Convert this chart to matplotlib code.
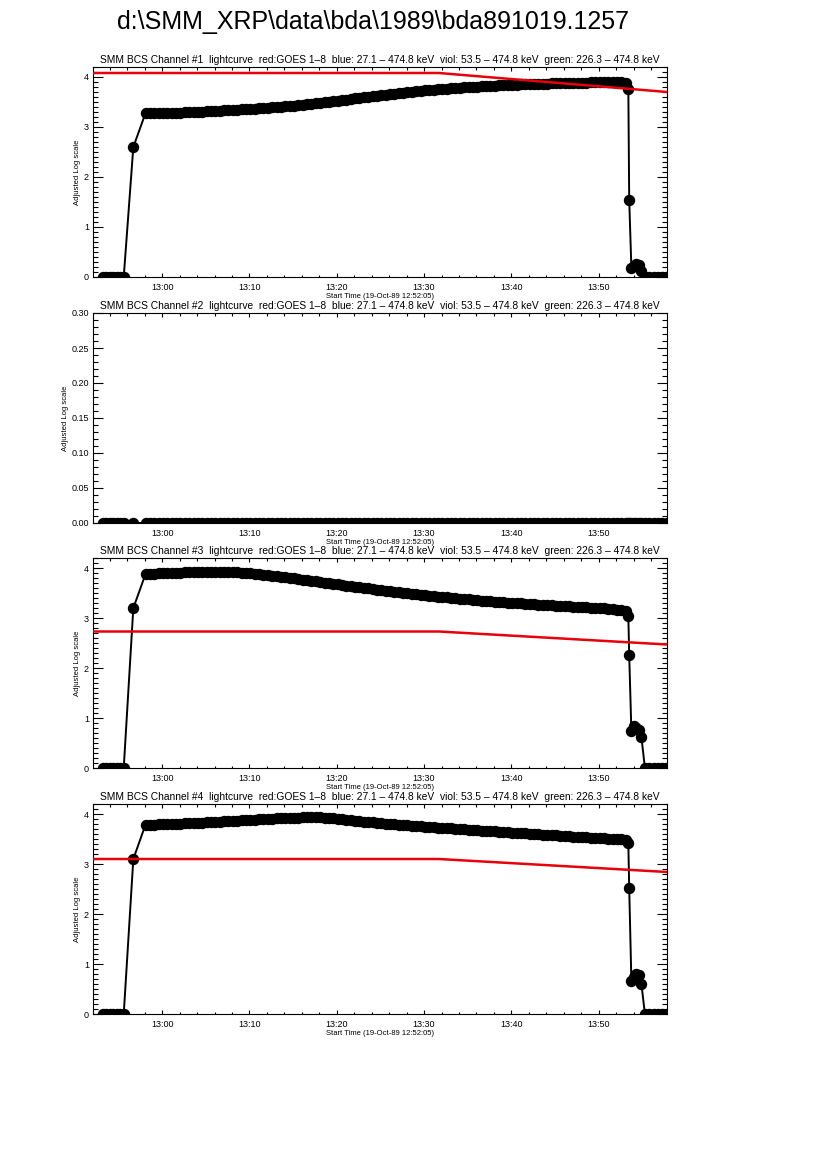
import numpy as np
import matplotlib
matplotlib.use("Agg")
import matplotlib.pyplot as plt
from matplotlib.ticker import MultipleLocator, FixedLocator

plt.rcParams['font.family'] = ['Liberation Sans', 'DejaVu Sans']

MAIN_TITLE = "d:\\SMM_XRP\\data\\bda\\1989\\bda891019.1257"
PANEL_TITLE = ("SMM BCS Channel #{}  lightcurve  red:GOES 1\u20138  blue: 27.1 \u2013 474.8 keV"
               "  viol: 53.5 \u2013 474.8 keV  green: 226.3 \u2013 474.8 keV")
XLABEL = "Start Time (19-Oct-89 12:52:05)"
YLABEL = "Adjusted Log scale"

# time in minutes after 13:00 (axis starts at 12:52:05)
X_MIN, X_MAX = -7.92, 57.83
TICK_MIN = [0, 10, 20, 30, 40, 50]
TICK_LAB = ["13:00", "13:10", "13:20", "13:30", "13:40", "13:50"]

# sample times
t_pre = [-6.8, -6.4, -6.0, -5.6, -5.2, -4.8, -4.4, -3.3]
t_main = np.arange(-1.9, 53.2, 0.5)      # regular cadence, 111 samples
t_tail = [53.4, 53.5, 53.75, 54.0, 54.3, 54.6, 54.9, 55.3, 55.8, 56.3, 56.8, 57.3, 57.8, 58.3]

# channel 1
ch1_pre = [0, 0, 0, 0, 0, 0, 0, 2.60]
ch1_main = [3.28, 3.28, 3.28, 3.28, 3.28, 3.28, 3.29, 3.29, 3.29, 3.30,
            3.30, 3.30, 3.31, 3.31, 3.32, 3.32, 3.33, 3.33, 3.34, 3.34,
            3.35, 3.35, 3.36, 3.36, 3.37, 3.37, 3.38, 3.38, 3.39, 3.40,
            3.40, 3.41, 3.42, 3.43, 3.43, 3.44, 3.45, 3.46, 3.47, 3.48,
            3.49, 3.50, 3.51, 3.52, 3.53, 3.54, 3.55, 3.56, 3.58, 3.59,
            3.60, 3.61, 3.62, 3.63, 3.64, 3.65, 3.66, 3.67, 3.68, 3.69,
            3.70, 3.71, 3.72, 3.73, 3.74, 3.74, 3.75, 3.76, 3.77, 3.77,
            3.78, 3.79, 3.79, 3.80, 3.80, 3.81, 3.81, 3.82, 3.82, 3.83,
            3.83, 3.84, 3.84, 3.85, 3.85, 3.85, 3.86, 3.86, 3.86, 3.87,
            3.87, 3.87, 3.87, 3.88, 3.88, 3.88, 3.88, 3.89, 3.89, 3.89,
            3.89, 3.89, 3.90, 3.90, 3.90, 3.90, 3.90, 3.90, 3.90, 3.90,
            3.89]
ch1_tail = [3.76, 1.55, 0.18, 0.22, 0.26, 0.24, 0.12, 0, 0, 0, 0, 0, 0, 0]

# channel 2 (flat)
ch2_pre = [0, 0, 0, 0, 0, 0, 0, 0]
ch2_main = [0.0] * 111
ch2_tail = [0, 0, 0, 0, 0, 0, 0, 0, 0, 0, 0, 0, 0, 0]

# channel 3
ch3_pre = [0, 0, 0, 0, 0, 0, 0, 3.20]
ch3_main = [3.88, 3.89, 3.89, 3.90, 3.90, 3.90, 3.91, 3.91, 3.91, 3.92,
            3.92, 3.92, 3.93, 3.93, 3.93, 3.93, 3.93, 3.93, 3.93, 3.93,
            3.92, 3.92, 3.91, 3.91, 3.90, 3.89, 3.88, 3.87, 3.86, 3.85,
            3.84, 3.83, 3.82, 3.81, 3.80, 3.79, 3.77, 3.76, 3.75, 3.74,
            3.73, 3.71, 3.70, 3.69, 3.68, 3.67, 3.65, 3.64, 3.63, 3.62,
            3.61, 3.60, 3.59, 3.57, 3.56, 3.55, 3.54, 3.53, 3.52, 3.51,
            3.50, 3.49, 3.48, 3.47, 3.46, 3.45, 3.44, 3.43, 3.42, 3.42,
            3.41, 3.40, 3.39, 3.38, 3.38, 3.37, 3.36, 3.35, 3.35, 3.34,
            3.33, 3.33, 3.32, 3.31, 3.31, 3.30, 3.30, 3.29, 3.28, 3.28,
            3.27, 3.27, 3.26, 3.26, 3.25, 3.25, 3.24, 3.24, 3.23, 3.23,
            3.22, 3.22, 3.21, 3.21, 3.20, 3.20, 3.19, 3.18, 3.17, 3.16,
            3.14]
ch3_tail = [3.04, 2.26, 0.74, 0.84, 0.80, 0.76, 0.62, 0, 0, 0, 0, 0, 0, 0]

# channel 4
ch4_pre = [0, 0, 0, 0, 0, 0, 0, 3.10]
ch4_main = [3.79, 3.79, 3.79, 3.80, 3.80, 3.80, 3.81, 3.81, 3.81, 3.82,
            3.82, 3.82, 3.83, 3.83, 3.84, 3.84, 3.85, 3.85, 3.86, 3.86,
            3.87, 3.87, 3.88, 3.88, 3.89, 3.89, 3.90, 3.90, 3.91, 3.91,
            3.92, 3.92, 3.92, 3.93, 3.93, 3.93, 3.94, 3.94, 3.94, 3.94,
            3.94, 3.93, 3.93, 3.92, 3.91, 3.90, 3.89, 3.88, 3.87, 3.86,
            3.85, 3.84, 3.84, 3.83, 3.82, 3.81, 3.81, 3.80, 3.79, 3.79,
            3.78, 3.77, 3.77, 3.76, 3.75, 3.75, 3.74, 3.73, 3.73, 3.72,
            3.72, 3.71, 3.70, 3.70, 3.69, 3.69, 3.68, 3.67, 3.67, 3.66,
            3.66, 3.65, 3.64, 3.64, 3.63, 3.63, 3.62, 3.62, 3.61, 3.60,
            3.60, 3.59, 3.59, 3.58, 3.58, 3.57, 3.56, 3.56, 3.55, 3.55,
            3.54, 3.54, 3.53, 3.53, 3.52, 3.52, 3.51, 3.51, 3.50, 3.50,
            3.49]
ch4_tail = [3.42, 2.52, 0.66, 0.74, 0.80, 0.78, 0.60, 0, 0, 0, 0, 0, 0, 0]

# GOES 1-8 (red)
goes_t = [-7.92, 31.7, 57.83]
goes_1 = [4.08, 4.08, 3.70]
goes_2 = [4.08, 4.08, 3.70]
goes_3 = [2.73, 2.73, 2.47]
goes_4 = [3.10, 3.10, 2.84]

channels = [
    (ch1_pre + ch1_main + ch1_tail, goes_1, (0, 4.2), 1, "int"),
    (ch2_pre + ch2_main + ch2_tail, goes_2, (0, 0.30), 0.05, "f2"),
    (ch3_pre + ch3_main + ch3_tail, goes_3, (0, 4.2), 1, "int"),
    (ch4_pre + ch4_main + ch4_tail, goes_4, (0, 4.2), 1, "int"),
]
t_all = np.concatenate([t_pre, t_main, t_tail])

W, H = 826, 1169
fig = plt.figure(figsize=(W / 100, H / 100), dpi=100)
fig.text(373 / W, 1 - 22 / H, MAIN_TITLE, ha='center', va='center', fontsize=18)

tops = [67, 313, 558, 804]
for i, (vals, goes, ylim, ymaj, fmt) in enumerate(channels):
    top = tops[i]
    ax = fig.add_axes([93 / W, 1 - (top + 210) / H, 574 / W, 210 / H])
    ax.plot(t_all, vals, color='black', lw=1.4, marker='o', ms=7.2,
            mec='black', mfc='black', zorder=2)
    ax.plot(goes_t, goes, color='#e8000b', lw=1.8, zorder=3)
    ax.set_xlim(X_MIN, X_MAX)
    ax.set_ylim(*ylim)

    ax.xaxis.set_major_locator(FixedLocator(TICK_MIN))
    ax.set_xticklabels(TICK_LAB)
    ax.xaxis.set_minor_locator(MultipleLocator(2))
    ax.yaxis.set_major_locator(MultipleLocator(ymaj))
    ax.yaxis.set_minor_locator(MultipleLocator(ymaj / (10 if fmt == "int" else 5)))
    if fmt == "int":
        ax.set_yticklabels([f"{v:.0f}" for v in ax.get_yticks()])
    else:
        ax.set_yticklabels([f"{v:.2f}" for v in ax.get_yticks()])

    ax.tick_params(axis='both', which='both', direction='in', top=True, right=True,
                   colors='black', width=0.8, labelsize=6.5)
    ax.tick_params(axis='x', which='major', length=3.2, pad=4)
    ax.tick_params(axis='x', which='minor', length=1.8)
    ax.tick_params(axis='y', which='major', length=7.5, pad=3)
    ax.tick_params(axis='y', which='minor', length=3.8)
    for s in ax.spines.values():
        s.set_linewidth(0.8)

    ax.set_title(PANEL_TITLE.format(i + 1), fontsize=7.4, pad=3)
    ax.set_xlabel(XLABEL, fontsize=5.5, labelpad=1)
    ax.set_ylabel(YLABEL, fontsize=5.5, labelpad=2)

fig.savefig("out.png", dpi=100)
